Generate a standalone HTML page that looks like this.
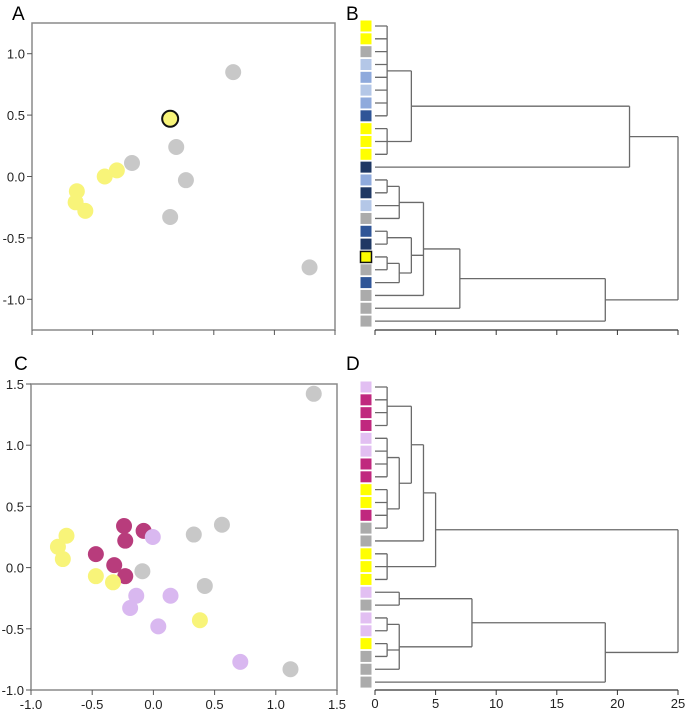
<!DOCTYPE html>
<html><head><meta charset="utf-8"><style>
body{margin:0;background:#fff;}
svg{display:block;font-family:"Liberation Sans",sans-serif;}
</style></head><body>
<svg id="fig" width="685" height="714" viewBox="0 0 685 714" xmlns="http://www.w3.org/2000/svg">
<text x="12" y="20" font-size="19">A</text>
<text x="346" y="20" font-size="19">B</text>
<text x="14" y="370" font-size="19">C</text>
<text x="346" y="370" font-size="19">D</text>
<g id="gA"></g>
<g id="gB"></g>
<g id="gC"></g>
<g id="gD"></g>
</svg>
<script>
// Panel A data
const aX = [0.66,0.14,0.19,-0.175,-0.30,-0.40,0.27,-0.63,-0.64,-0.56,0.14,1.29];
const aY = [0.85,0.47,0.24,0.11,0.05,0.0,-0.03,-0.12,-0.21,-0.28,-0.33,-0.74];
const aCat = ['g','yo','g','g','y','y','g','y','y','y','g','g'];
const aYTicks = [-1.0,-0.5,0.0,0.5,1.0];
// Panel C data
const cX = [1.31,-0.24,-0.08,-0.005,-0.23,0.33,0.56,-0.71,-0.78,-0.74,-0.47,-0.32,-0.23,-0.09,-0.47,-0.33,0.42,-0.14,0.14,-0.19,0.04,0.38,0.71,1.12];
const cY = [1.42,0.34,0.30,0.25,0.22,0.27,0.35,0.26,0.17,0.07,0.11,0.02,-0.07,-0.03,-0.07,-0.12,-0.15,-0.23,-0.23,-0.33,-0.48,-0.43,-0.77,-0.83];
const cCat = ['g','m','m','l','m','g','g','y','y','y','m','m','m','g','y','y','g','l','l','l','l','y','l','g'];
const cTicks = [-1.0,-0.5,0.0,0.5,1.0,1.5];
// Dendrogram B
const bLeaves = ['Y','Y','G','LB','MB','LB','MB','B','Y','Y','Y','N','MB','N','LB','G','B','N','YO','G','B','G','G','G'];
const bHeights = [1,1,3,21,1,2,1,1,2,3,4,7,19,25];
const bChildren = [[0,1,2,3,4,5,6,7],[8,9,10],['n0','n1'],['n2',11],[12,13],['n4',14,15],[16,17],[18,19],['n7',20],['n6','n8'],['n5','n9',21],['n10',22],['n11',23],['n3','n12']];
// Dendrogram D
const dLeaves = ['L','M','M','M','L','L','M','M','Y','Y','M','G','G','Y','Y','Y','L','G','L','L','Y','G','G','G'];
const dHeights = [1,1,1,2,3,4,1,5,2,1,1,2,8,19,25];
const dChildren = [[0,1,2,3],[4,5,6,7],[8,9,10,11],['n1','n2'],['n0','n3'],['n4',12],[13,14,15],['n5','n6'],[16,17],[18,19],[20,21],['n9','n10',22],['n8','n11'],['n12',23],['n7','n13']];
const dTicks = [0,5,10,15,20,25];

const NS='http://www.w3.org/2000/svg';
function mk(parent,tag,attrs){const e=document.createElementNS(NS,tag);for(const k in attrs)e.setAttribute(k,attrs[k]);parent.appendChild(e);return e;}
const scatCol={g:'#c8c8c8',y:'#f8f479',yo:'#f8f479',m:'#b83c7c',l:'#d9b8f0'};
const leafCol={Y:'#ffff00',YO:'#ffff00',G:'#ababab',LB:'#b4c7e7',MB:'#8faadc',B:'#2f5597',N:'#1f3864',L:'#e2bff2',M:'#c0287e'};

function scatter(g,x0,x1,y0,y1,xd,yd,xs,ys,cats,yt,xt,xlabels,pfx){
  const sx=v=>x0+(v-xd[0])/(xd[1]-xd[0])*(x1-x0);
  const sy=v=>y1-(v-yd[0])/(yd[1]-yd[0])*(y1-y0);
  let f=mk(g,'path',{d:`M${x0} ${y1}V${y0}H${x1}V${y1}H${x0}`,fill:'none',stroke:'#8a8a8a','stroke-width':1.5});
  
  
  yt.forEach(v=>{
    const t=mk(g,'line',{x1:x0-5,x2:x0,y1:sy(v),y2:sy(v),stroke:'#555'});
    
    
    const l=mk(g,'text',{x:x0-7,y:sy(v)+5,'font-size':13,'text-anchor':'end',fill:'#222'});
    l.textContent=v.toFixed(1);
    
    
  });
  xt.forEach(v=>{
    const t=mk(g,'line',{x1:sx(v),x2:sx(v),y1:y1,y2:y1+5,stroke:'#555'});
    
    
    if(xlabels){
      const l=mk(g,'text',{x:sx(v),y:y1+19,'font-size':13,'text-anchor':'middle',fill:'#222'});
      l.textContent=v.toFixed(1);
      
      
    }
  });
  xs.forEach((v,i)=>{
    const c=mk(g,'circle',{cx:sx(v),cy:sy(ys[i]),r:8,fill:scatCol[cats[i]]});
    if(cats[i]==='yo'){c.setAttribute('stroke','#111');c.setAttribute('stroke-width','2');}
    
    
  });
}
scatter(document.getElementById('gA'),32,335,23,330,[-1,1.5],[-1.25,1.25],aX,aY,aCat,aYTicks,cTicks,false,'a');
scatter(document.getElementById('gC'),31,337,384,690,[-1,1.5],[-1,1.5],cX,cY,cCat,cTicks,cTicks,true,'c');

function dendro(g,leaves,hs,ch,yTop,ySp,axY,labels,pfx){
  const sx=v=>375+v/25*303;
  const ly=i=>yTop+i*ySp;
  leaves.forEach((c,i)=>{
    const r=mk(g,'rect',{x:360.5,y:ly(i)-5.5,width:11,height:11,fill:leafCol[c]});
    if(c==='YO'){r.setAttribute('stroke','#111');r.setAttribute('stroke-width','1.5');}
    
    
  });
  const pos=[];
  function get(c){if(typeof c==='number')return {y:ly(c),h:0};return pos[+c.slice(1)];}
  hs.forEach((h,k)=>{
    const kids=ch[k].map(get);
    let mn=1e9,mx=-1e9,d='';
    kids.forEach(p=>{d+=`M${sx(p.h)} ${p.y}H${sx(h)}`;mn=Math.min(mn,p.y);mx=Math.max(mx,p.y);});
    d+=`M${sx(h)} ${mn}V${mx}`;
    const e=mk(g,'path',{d:d,fill:'none',stroke:'#6a6a6a','stroke-width':1.3});
    
    
    pos[k]={y:(mn+mx)/2,h:h};
  });
  const ax=mk(g,'line',{x1:375,x2:678,y1:axY,y2:axY,stroke:'#333','stroke-width':1.2});
  
  
  dTicks.forEach(v=>{
    const t=mk(g,'line',{x1:sx(v),x2:sx(v),y1:axY,y2:axY+5,stroke:'#333'});
    
    
    if(labels){
      const l=mk(g,'text',{x:sx(v),y:axY+18,'font-size':13,'text-anchor':'middle',fill:'#222'});
      l.textContent=v;
      
      
    }
  });
}
dendro(document.getElementById('gB'),bLeaves,bHeights,bChildren,26,12.83,330,false,'b');
dendro(document.getElementById('gD'),dLeaves,dHeights,dChildren,387,12.83,690,true,'d');
</script>
</body></html>
